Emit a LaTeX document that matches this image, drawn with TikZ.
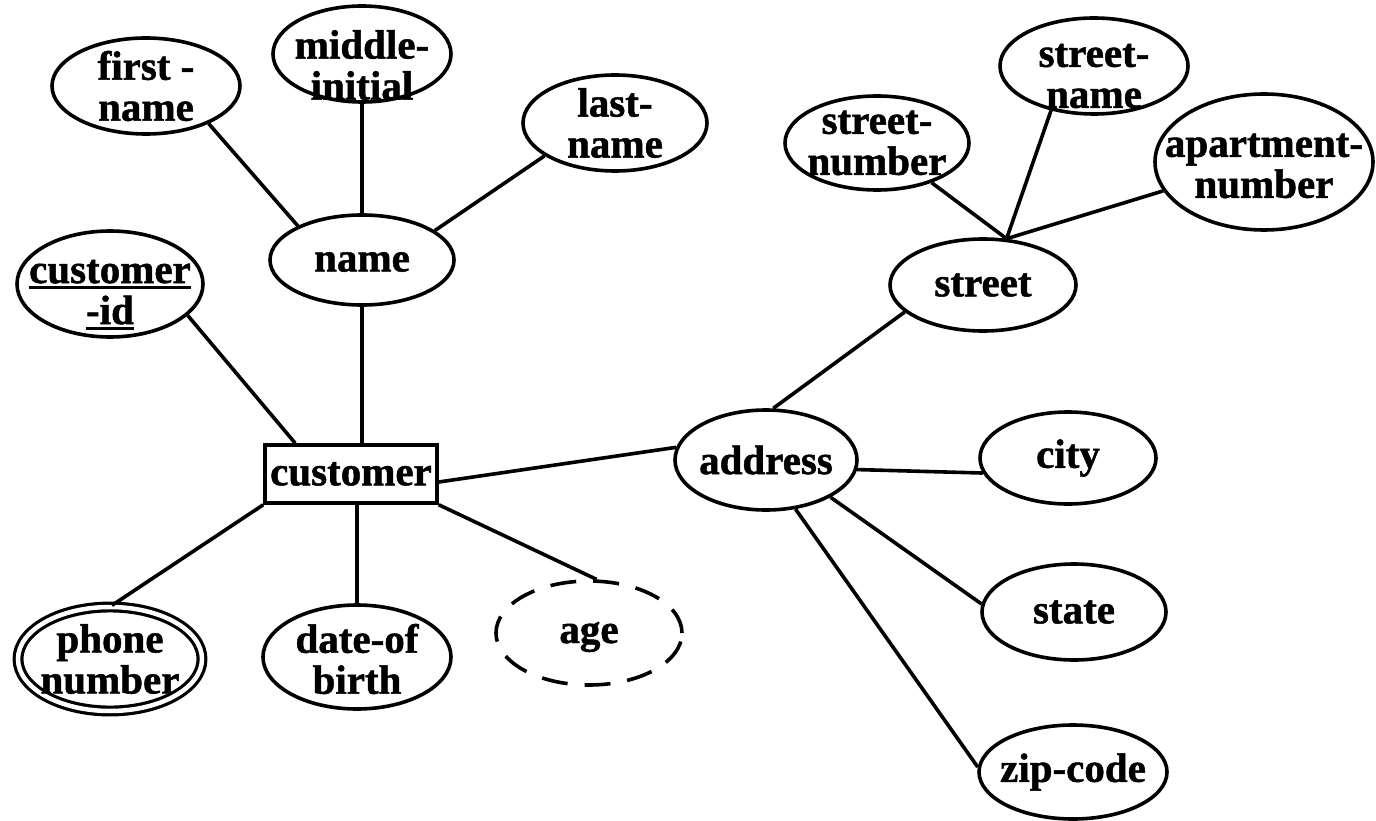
\documentclass[tikz,border=0pt]{standalone}
\usepackage{fontspec}
\setmainfont{Liberation Serif}[BoldFeatures={FakeBold=1.2}]
\usetikzlibrary{shapes.geometric}
% thick underline for key attributes
\newcommand\keyul[1]{\setbox0\hbox{#1}\rlap{\rule[-6pt]{\wd0}{3pt}}\box0}
\begin{document}
\begin{tikzpicture}[x=1pt,y=-1pt,
  every node/.style={font=\fontsize{41}{41}\selectfont\bfseries},
  attr/.style n args={2}{ellipse, draw, line width=3.6pt,
    minimum width=#1, minimum height=#2, inner sep=0pt},
  lbl/.style={align=center, inner sep=0pt},
  link/.style={line width=3.6pt},
  entity/.style={rectangle, draw, line width=3.6pt, minimum width=172pt,
    minimum height=58pt, inner sep=0pt}]
\useasboundingbox (0,0) rectangle (1376,821);

% entity
\node[entity] (cu) at (351,474) {customer};

% attributes of customer
\node[attr={188pt}{96pt}, label={[lbl]center:first -\\name}] (fn) at (146,86) {};
\node[attr={178pt}{96pt}, label={[lbl,yshift=-11pt]center:middle-\\initial}] (mi) at (362,54) {};
\node[attr={184pt}{96pt}, label={[lbl]center:last-\\name}] (ln) at (615,123) {};
\node[attr={184pt}{90pt}, label={[lbl,yshift=-2pt]center:name}] (nm) at (362,260) {};
\node[attr={186pt}{106pt}, label={[lbl,yshift=-11pt]center:\keyul{customer}\\\keyul{-id}}] (cid) at (110,284) {};
\node[attr={184pt}{104pt}, double, double distance=4.5pt, line width=3.2pt,
      label={[lbl]center:phone\\number}] (ph) at (110,659) {};
\node[attr={188pt}{104pt}, label={[lbl,yshift=-2pt]center:date-of\\birth}] (dob) at (357,657) {};
\node[attr={186pt}{104pt}, dash pattern=on 26pt off 17pt,
      label={[lbl,yshift=-4pt]center:age}] (age) at (589,633) {};

% composite address
\node[attr={182pt}{100pt}, label={[lbl]center:address}] (ad) at (766,460) {};
\node[attr={186pt}{92pt}, label={[lbl]center:street}] (st) at (983,285) {};
\node[attr={184pt}{94pt}, label={[lbl]center:street-\\number}] (sn) at (877,143) {};
\node[attr={188pt}{96pt}, label={[lbl,yshift=-10pt]center:street-\\name}] (sm) at (1094,66) {};
\node[attr={218pt}{136pt}, label={[lbl,yshift=-4pt]center:apartment-\\number}] (ap) at (1264,162) {};
\node[attr={176pt}{92pt}, label={[lbl]center:city}] (ct) at (1068,458) {};
\node[attr={184pt}{96pt}, label={[lbl]center:state}] (sa) at (1074,612) {};
\node[attr={188pt}{94pt}, label={[lbl]center:zip-code}] (zp) at (1073,772) {};

% connectors around name
\draw[link] (fn.-31) -- (nm.152);
\draw[link] (mi.-90) -- (nm.90);
\draw[link] (ln.205) -- (nm.22);
\draw[link] (nm.south) -- (nm.south |- cu.north);

% connectors around customer
\draw[link] (cid.-22) -- ([xshift=32pt]cu.north west);
\draw[link] (cu.south west) -- (ph.88);
\draw[link] (dob.north |- cu.south) -- (dob.north);
\draw[link] (cu.south east) -- (age.82);
\draw[link] ([yshift=-8pt]cu.east) -- (ad.172);

% connectors around address
\draw[link] (ad.82) -- (st.-161);
\draw[link] (ad.-6) -- (ct.190);
\draw[link] (ad.-30) -- (sa.175);
\draw[link] (ad.-59) -- (zp.177);

% street components meet at one point on the street ellipse
\coordinate (jn) at (st.63);
\draw[link] (sn.-36) -- (jn);
\draw[link] (sm.-134) -- (jn);
\draw[link] (ap.-164) -- (jn);
\end{tikzpicture}
\end{document}
